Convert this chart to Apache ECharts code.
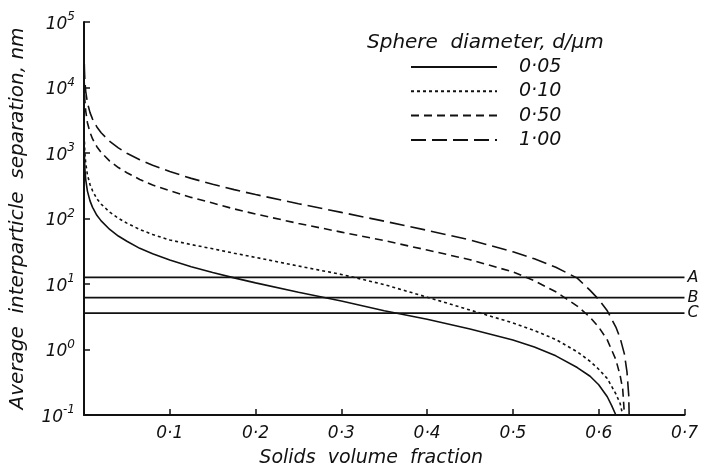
<!DOCTYPE html>
<html><head><meta charset="utf-8">
<script src="https://cdn.jsdelivr.net/npm/echarts@6/dist/echarts.min.js"></script>
<style>html,body{margin:0;padding:0;background:#fff}#c{width:701px;height:473px}</style>
</head><body><div id="c"></div>
<script>
// Sphere diameters (legend labels)
const seriesNames = ['0·05', '0·10', '0·50', '1·00'];

// Solids volume fraction (x) and average separation in nm (y)
const phi_005 = [0.0003,0.001,0.002,0.004,0.007,0.01,0.015,0.02,0.03,0.04,0.05,0.065,0.08,0.1,0.125,0.15,0.175,0.2,0.25,0.3,0.35,0.4,0.45,0.5,0.525,0.55,0.575,0.59,0.6,0.61,0.615,0.62];
const h_005   = [1100,580,393,262,186,148,112,92,68,54,45,35,29,23.3,18.4,15.0,12.4,10.4,7.5,5.5,3.9,2.9,2.05,1.4,1.09,0.80,0.53,0.39,0.29,0.19,0.14,0.1];

const phi_010 = [0.0005,0.001,0.002,0.004,0.007,0.01,0.015,0.02,0.03,0.04,0.05,0.065,0.08,0.1,0.125,0.15,0.175,0.2,0.25,0.3,0.35,0.4,0.45,0.5,0.525,0.55,0.575,0.59,0.6,0.61,0.62,0.625,0.628];
const h_010   = [1500,1000,700,465,330,265,200,166,125,101,85,68,57,47,40,34.5,29.5,25.5,18.8,14.0,9.8,6.3,4.0,2.55,1.95,1.42,0.92,0.66,0.5,0.36,0.21,0.15,0.1];

const phi_050 = [0.0003,0.0005,0.001,0.002,0.004,0.007,0.01,0.015,0.02,0.03,0.04,0.05,0.065,0.08,0.1,0.125,0.15,0.175,0.2,0.25,0.3,0.35,0.4,0.45,0.5,0.525,0.55,0.575,0.59,0.6,0.61,0.62,0.625,0.628,0.63];
const h_050   = [12000,9400,6400,4400,2900,2070,1640,1250,1020,750,600,500,395,325,265,210,172,140,117,84,62,46,33,23.5,15.3,11.2,7.6,4.6,3.1,2.2,1.4,0.7,0.4,0.25,0.1];

const phi_100 = [0.00003,0.0003,0.0005,0.001,0.002,0.004,0.007,0.01,0.015,0.02,0.03,0.04,0.05,0.065,0.08,0.1,0.125,0.15,0.175,0.2,0.25,0.3,0.35,0.4,0.45,0.5,0.525,0.55,0.575,0.59,0.6,0.61,0.62,0.625,0.63,0.633,0.635,0.6355];
const h_100   = [100000,24500,18800,12900,8750,5840,4140,3290,2500,2040,1500,1200,990,790,650,520,410,333,276,232,168,124,91,66,47,31,24.2,18,12.3,8.0,5.8,3.9,2.2,1.5,0.85,0.45,0.2,0.1];

// Reference levels A, B, C (nm)
const refNames  = ['A', 'B', 'C'];
const refLevels = [12.6, 6.2, 3.6];
const refSpan   = [0, 0.7];

// Axis ranges
const xMin = 0, xMax = 0.7, xStep = 0.1;
const yMin = 0.1, yMax = 100000;

const FONT = 'DejaVu Sans';
const INK = '#111';

function pairs(xs, ys) { return xs.map((x, i) => [x, ys[i]]); }

const curveSets = [
  { x: phi_005, y: h_005, type: 'solid' },
  { x: phi_010, y: h_010, type: [3, 3] },
  { x: phi_050, y: h_050, type: [8, 5] },
  { x: phi_100, y: h_100, type: [15, 6] }
];

const series = curveSets.map((c, i) => ({
  name: seriesNames[i],
  type: 'line',
  data: pairs(c.x, c.y),
  showSymbol: false,
  symbol: 'none',
  smooth: false,
  lineStyle: { color: INK, width: 1.6, type: c.type },
  itemStyle: { color: INK },
  animation: false,
  silent: true
}));

refLevels.forEach((lv, i) => {
  series.push({
    name: refNames[i],
    type: 'line',
    data: refSpan.map(x => [x, lv]),
    showSymbol: false,
    symbol: 'none',
    lineStyle: { color: INK, width: 1.8 },
    itemStyle: { color: INK },
    endLabel: {
      show: true, formatter: refNames[i], distance: 3,
      fontFamily: FONT, fontStyle: 'italic', fontSize: 16, color: INK
    },
    animation: false,
    silent: true
  });
});

const chart = echarts.init(document.getElementById('c'), null, { renderer: 'canvas' });
chart.setOption({
  backgroundColor: '#fff',
  animation: false,
  title: {
    text: 'Sphere  diameter, d/µm',
    left: 362, top: 28,
    textStyle: { fontFamily: FONT, fontStyle: 'italic', fontWeight: 'normal', fontSize: 20, color: INK }
  },
  legend: {
    data: seriesNames,
    orient: 'vertical',
    left: 405, top: 52,
    itemWidth: 86, itemHeight: 14, itemGap: 4.3,
    itemStyle: { opacity: 0 },
    textStyle: { fontFamily: FONT, fontStyle: 'italic', fontSize: 19, color: INK, lineHeight: 20, padding: [0, 0, 0, 17] },
    selectedMode: false
  },
  grid: { left: 72, right: 12, top: 22, bottom: 57, containLabel: false },
  xAxis: {
    type: 'value', min: xMin, max: xMax, interval: xStep,
    name: 'Solids  volume  fraction',
    nameLocation: 'middle', nameGap: 34,
    nameTextStyle: { fontFamily: FONT, fontStyle: 'italic', fontSize: 19, color: INK, padding: [0, 26, 0, 0] },
    axisLine: { show: true, lineStyle: { color: INK, width: 2 } },
    axisTick: { show: true, inside: true, length: 6, lineStyle: { color: INK, width: 1.5 } },
    axisLabel: {
      margin: 10,
      fontFamily: FONT, fontStyle: 'italic', fontSize: 17, color: INK,
      formatter: v => v < 1e-9 ? '' : v.toFixed(1).replace('.', '·')
    },
    splitLine: { show: false }
  },
  yAxis: {
    type: 'log', logBase: 10, min: yMin, max: yMax, interval: 1,
    name: 'Average  interparticle  separation, nm',
    nameLocation: 'middle', nameGap: 56,
    nameTextStyle: { fontFamily: FONT, fontStyle: 'italic', fontSize: 20, color: INK },
    axisLine: { show: true, lineStyle: { color: INK, width: 2 } },
    axisTick: { show: true, inside: true, length: 6, lineStyle: { color: INK, width: 1.5 } },
    axisLabel: {
      margin: 9,
      color: INK,
      formatter: v => '{a|10}{b|' + Math.round(Math.log10(v)) + '}',
      rich: {
        a: { fontFamily: FONT, fontStyle: 'italic', fontSize: 17, color: INK, lineHeight: 22, verticalAlign: 'bottom' },
        b: { fontFamily: FONT, fontStyle: 'italic', fontSize: 12, color: INK, lineHeight: 12, verticalAlign: 'top' }
      }
    },
    splitLine: { show: false },
    minorTick: { show: false }
  },
  series: series
});
</script>
</body></html>
